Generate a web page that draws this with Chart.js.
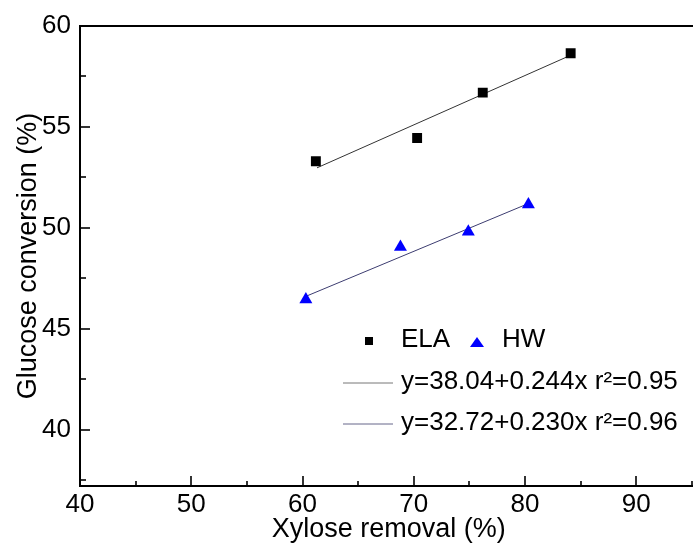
<!DOCTYPE html>
<html>
<head>
<meta charset="utf-8">
<script src="https://cdn.jsdelivr.net/npm/chart.js@4.4.1/dist/chart.umd.min.js"></script>
<style>
  html, body { margin: 0; padding: 0; background: #fff; overflow: hidden; }
  #wrap { width: 705px; height: 546px; }
</style>
</head>
<body>
<div id="wrap"><canvas id="chart" width="705" height="546"></canvas></div>
<script>
// values
const elaX = [61.2, 70.3, 76.2, 84.1];
const elaY = [53.3, 54.45, 56.7, 58.65];
const hwX = [60.3, 68.8, 74.9, 80.3];
const hwY = [46.45, 49.05, 49.8, 51.15];

// fitted lines (end points)
const elaFitX = [61.3, 84.1];
const elaFitY = [52.97, 58.55];
const hwFitX = [60.3, 80.3];
const hwFitY = [46.6, 51.2];

const seriesLabels = ['ELA', 'HW'];
const fitLabels = ['y=38.04+0.244x r\u00B2=0.95', 'y=32.72+0.230x r\u00B2=0.96'];

const xMajor = [40, 50, 60, 70, 80, 90];
const xMinor = [45, 55, 65, 75, 85, 95];
const yMajor = [40, 45, 50, 55, 60];
const yMinor = [37.5, 42.5, 47.5, 52.5, 57.5];

const FONT = '"Liberation Sans", Arial, sans-serif';
const FSIZE = 26;

function pts(xs, ys) {
	return xs.map(function(x, i) { return { x: x, y: ys[i] }; });
}

function setTicks(major, minor) {
	return function(scale) {
		scale.ticks = major.concat(minor).sort(function(a, b) { return a - b; })
			.map(function(v) { return { value: v }; });
	};
}

/**
 * Inward tick marks + top frame line
 */
const frameTicks = {
	id: 'frameTicks',
	afterDraw: function(chart) {
		const ctx = chart.ctx;
		const a = chart.chartArea;
		const x = chart.scales.x;
		const y = chart.scales.y;
		ctx.save();
		ctx.strokeStyle = '#000';
		ctx.lineWidth = 2;
		ctx.beginPath();
		ctx.moveTo(a.left - 1, a.top);
		ctx.lineTo(a.right, a.top);
		ctx.stroke();

		ctx.lineWidth = 1.6;
		x.ticks.forEach(function(t) {
			const px = Math.round(x.getPixelForValue(t.value));
			const len = xMajor.includes(t.value) ? 10 : 5;
			ctx.beginPath();
			ctx.moveTo(px, a.bottom);
			ctx.lineTo(px, a.bottom - len);
			ctx.stroke();
		});
		y.ticks.forEach(function(t) {
			const py = Math.round(y.getPixelForValue(t.value));
			const len = yMajor.includes(t.value) ? 10 : 6;
			ctx.beginPath();
			ctx.moveTo(a.left, py);
			ctx.lineTo(a.left + len, py);
			ctx.stroke();
		});
		ctx.restore();
	}
};

/**
 * Legend drawn inside the plot
 */
const innerLegend = {
	id: 'innerLegend',
	afterDraw: function(chart) {
		const ctx = chart.ctx;
		ctx.save();
		ctx.font = FSIZE + 'px ' + FONT;
		ctx.textBaseline = 'middle';
		ctx.fillStyle = '#000';

		// square marker
		ctx.fillRect(365, 337, 8, 8);
		ctx.fillText(seriesLabels[0], 401, 340);

		// triangle marker
		ctx.fillStyle = '#0000ff';
		ctx.beginPath();
		ctx.moveTo(477, 337);
		ctx.lineTo(484, 347);
		ctx.lineTo(470, 347);
		ctx.closePath();
		ctx.fill();
		ctx.fillStyle = '#000';
		ctx.fillText(seriesLabels[1], 502, 340);

		// fit line samples
		ctx.lineWidth = 1;
		ctx.strokeStyle = '#777';
		ctx.beginPath();
		ctx.moveTo(343, 383);
		ctx.lineTo(393, 383);
		ctx.stroke();
		ctx.fillText(fitLabels[0], 401, 382);

		ctx.strokeStyle = '#67678a';
		ctx.beginPath();
		ctx.moveTo(343, 424);
		ctx.lineTo(393, 424);
		ctx.stroke();
		ctx.fillText(fitLabels[1], 401, 423);
		ctx.restore();
	}
};

new Chart(document.getElementById('chart').getContext('2d'), {
	type: 'scatter',
	data: {
		datasets: [
			{
				label: seriesLabels[0],
				data: pts(elaX, elaY),
				pointStyle: 'rect',
				pointRadius: 7,
				backgroundColor: '#000',
				borderWidth: 0,
				order: 0
			},
			{
				label: seriesLabels[1],
				data: pts(hwX, hwY),
				pointStyle: 'triangle',
				pointRadius: 7.5,
				backgroundColor: '#0000ff',
				borderWidth: 0,
				order: 0
			},
			{
				label: fitLabels[0],
				type: 'line',
				data: pts(elaFitX, elaFitY),
				borderColor: '#333',
				borderWidth: 1,
				pointRadius: 0,
				showLine: true,
				order: 1
			},
			{
				label: fitLabels[1],
				type: 'line',
				data: pts(hwFitX, hwFitY),
				borderColor: '#3c3c70',
				borderWidth: 1,
				pointRadius: 0,
				showLine: true,
				order: 1
			}
		]
	},
	options: {
		responsive: false,
		animation: false,
		layout: { padding: { top: 26, right: 0, left: 0, bottom: 0 } },
		plugins: {
			legend: { display: false },
			tooltip: { enabled: false }
		},
		scales: {
			x: {
				type: 'linear',
				min: 40,
				max: 95.5,
				afterBuildTicks: setTicks(xMajor, xMinor),
				afterFit: function(s) { s.height = 60; },
				grid: { display: false, drawTicks: false },
				border: { display: true, color: '#000', width: 2 },
				ticks: {
					autoSkip: false,
					maxRotation: 0,
					padding: 3,
					color: '#000',
					font: { family: FONT, size: FSIZE },
					callback: function(v) { return xMajor.includes(v) ? String(v) : ''; }
				},
				title: {
					display: true,
					text: 'Xylose removal (%)',
					color: '#000',
					font: { family: FONT, size: 27 },
					padding: { top: 0, bottom: 0 }
				}
			},
			y: {
				type: 'linear',
				min: 37.2,
				max: 60,
				afterBuildTicks: setTicks(yMajor, yMinor),
				afterFit: function(s) { s.width = 80; },
				grid: { display: false, drawTicks: false },
				border: { display: true, color: '#000', width: 2 },
				ticks: {
					autoSkip: false,
					padding: 9,
					color: '#000',
					font: { family: FONT, size: FSIZE },
					callback: function(v) { return yMajor.includes(v) ? String(v) : ''; }
				},
				title: {
					display: true,
					text: 'Glucose conversion (%)',
					color: '#000',
					font: { family: FONT, size: 27 },
					padding: { top: 12, bottom: 0 }
				}
			}
		}
	},
	plugins: [frameTicks, innerLegend]
});
</script>
</body>
</html>
